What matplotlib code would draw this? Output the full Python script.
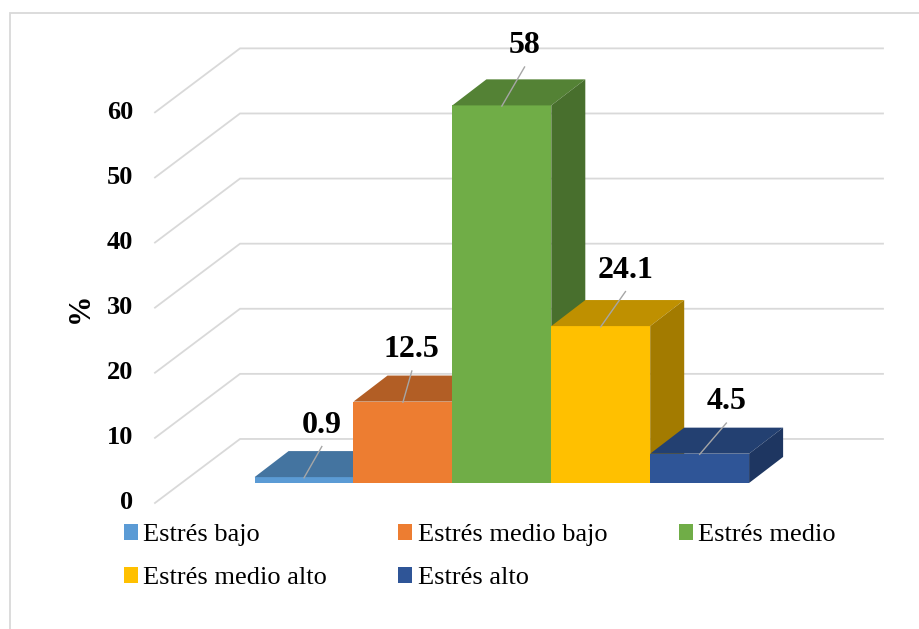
import numpy as np
import matplotlib.pyplot as plt
from matplotlib.patches import Patch, Rectangle
from matplotlib.colors import to_rgb

# Datos del gráfico
categorias = ['Estrés bajo', 'Estrés medio bajo', 'Estrés medio', 'Estrés medio alto', 'Estrés alto']
porcentajes = [0.9, 12.5, 58, 24.1, 4.5]
colores = ['#5B9BD5', '#ED7D31', '#70AD47', '#FFC000', '#2F5597']
marcas_y = [0, 10, 20, 30, 40, 50, 60]

# Altura de cada etiqueta sobre la barra (unidades de datos) y desplazamiento horizontal
etiqueta_dy = [8.0, 8.0, 9.2, 8.6, 8.0]
etiqueta_dx = [0.18, 0.09, 0.23, 0.25, 0.27]

plt.rcParams['font.family'] = ['Liberation Serif', 'DejaVu Serif']

fig = plt.figure(figsize=(9.19, 6.29), dpi=100)
ax = fig.add_axes([0, 0, 1, 1])
ax.set_xlim(-3.074, 6.218)
ax.set_ylim(-22.43, 74.19)
ax.axis('off')

# Profundidad de las barras y posición de la pared del fondo / suelo
prof_x, prof_y = 0.344, 4.0
fondo_x0, fondo_x1, fondo_dy = -0.647, 5.854, 6.76
suelo_x0, suelo_dy = -1.507, -3.07
gris = '#D9D9D9'

# Líneas de cuadrícula en perspectiva y etiquetas del eje
for v in marcas_y:
    ax.plot([suelo_x0, fondo_x0, fondo_x1],
            [v + suelo_dy, v + fondo_dy, v + fondo_dy],
            color=gris, lw=1.3, zorder=1, solid_joinstyle='miter')
    ax.text(suelo_x0 - 0.222, v + suelo_dy, str(v), ha='right', va='center',
            fontsize=19, fontweight='bold')

ax.text(-2.265, 26.9, '%', rotation=90, ha='center', va='center',
        fontsize=22, fontweight='bold')

# Barras 3D: cara frontal con ax.bar, cara superior y lateral con polígonos
x = np.arange(len(porcentajes))
barras = ax.bar(x, porcentajes, width=1.0, color=colores, linewidth=0)
for i, (h, c) in enumerate(zip(porcentajes, colores)):
    base = np.array(to_rgb(c))
    barras[i].set_zorder(2 + i)
    izq, der = i - 0.5, i + 0.5
    ax.fill([izq, der, der + prof_x, izq + prof_x],
            [h, h, h + prof_y, h + prof_y],
            color=base * 0.75, lw=0, zorder=2 + i)
    ax.fill([der, der + prof_x, der + prof_x, der],
            [0, prof_y, h + prof_y, h],
            color=base * 0.64, lw=0, zorder=2 + i)

    # Etiqueta con línea guía
    lx = i + etiqueta_dx[i]
    ly = h + etiqueta_dy[i]
    ax.plot([i, lx], [h - 0.1, ly - 3.3], color='#A6A6A6', lw=1.0, zorder=10)
    ax.text(lx, ly, f'{h:g}', ha='center', va='center',
            fontsize=23, fontweight='bold', zorder=11)

# Marco exterior
fig.patches.append(Rectangle((10 / 919, -0.05), 1.0, 1 - 13 / 629 + 0.05,
                             transform=fig.transFigure, fill=False,
                             edgecolor=gris, lw=1.3))

# Leyenda (orden por columnas para que se lea por filas)
orden = [0, 3, 1, 4, 2]
handles = [Patch(facecolor=colores[k], lw=0, label=categorias[k]) for k in orden]
fig.legend(handles=handles, loc='upper left',
           bbox_to_anchor=(124 / 919, 1 - 524 / 629), ncol=3, frameon=False,
           fontsize=19, handlelength=0.53, handleheight=0.53,
           handletextpad=0.2, columnspacing=2.7, borderpad=0,
           borderaxespad=0, labelspacing=0.8)

fig.savefig('out.png', dpi=100)
